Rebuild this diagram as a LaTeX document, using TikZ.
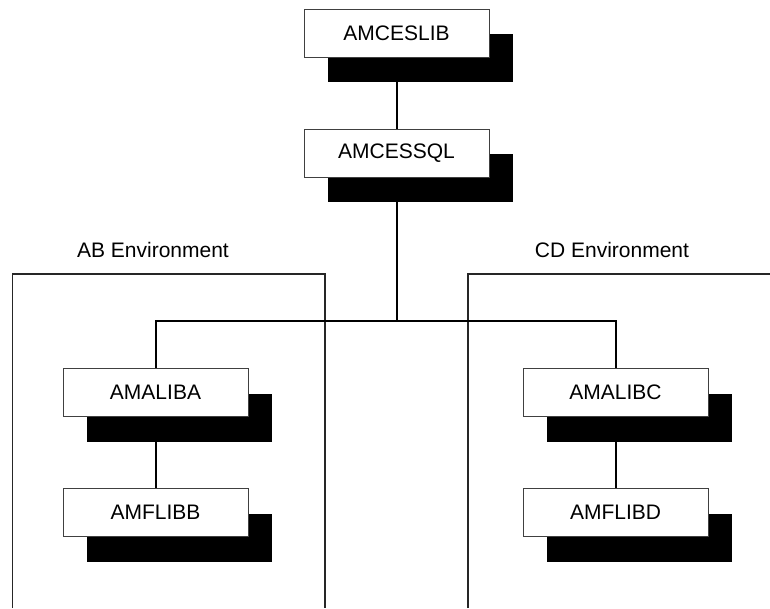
\documentclass[tikz,border=0pt]{standalone}
\usepackage{fontspec}
\setmainfont{Liberation Sans}
\usetikzlibrary{positioning, shadows}

\begin{document}
\begin{tikzpicture}[
  x=1pt, y=1pt,
  font=\fontsize{21}{24}\selectfont,
  lib/.style={draw=black!75, line width=1pt, fill=white,
    minimum width=185pt, minimum height=48pt, inner sep=0pt,
    drop shadow={shadow xshift=24pt, shadow yshift=-25pt,
      fill=black, opacity=1}},
  env/.style={font=\fontsize{21}{24}\selectfont},
  frame/.style={draw=black!85, line width=1.3pt},
  link/.style={draw=black, line width=2pt},
]
  \useasboundingbox (0,0) rectangle (770,608);

  % environment frames
  \draw[frame] (12.7,0) |- (325,334) -- (325,0);
  \draw[frame] (468,0) |- (770,334);
  \node[env] (abenv) at (153,358) {AB Environment};
  \node[env] (cdenv) at (612,358) {CD Environment};

  \node[lib] (ceslib) at (396.5,574.5) {AMCESLIB};
  \node[lib] (cessql) at (396.5,454.5) {AMCESSQL};
  \node[lib] (aliba)  at (155.5,215.5) {AMALIBA};
  \node[lib] (flibb)  at (155.5,95.5)  {AMFLIBB};
  \node[lib] (alibc)  at (615.5,215.5) {AMALIBC};
  \node[lib] (flibd)  at (615.5,95.5)  {AMFLIBD};

  \coordinate (bus) at (396.5,287.3);

  \draw[link] (ceslib.south) -- (cessql.north);
  \draw[link] (cessql.south) -- (bus);
  \draw[link] (aliba.north) |- (bus) -| (alibc.north);
  \draw[link] (aliba.south) -- (flibb.north);
  \draw[link] (alibc.south) -- (flibd.north);
\end{tikzpicture}
\end{document}
